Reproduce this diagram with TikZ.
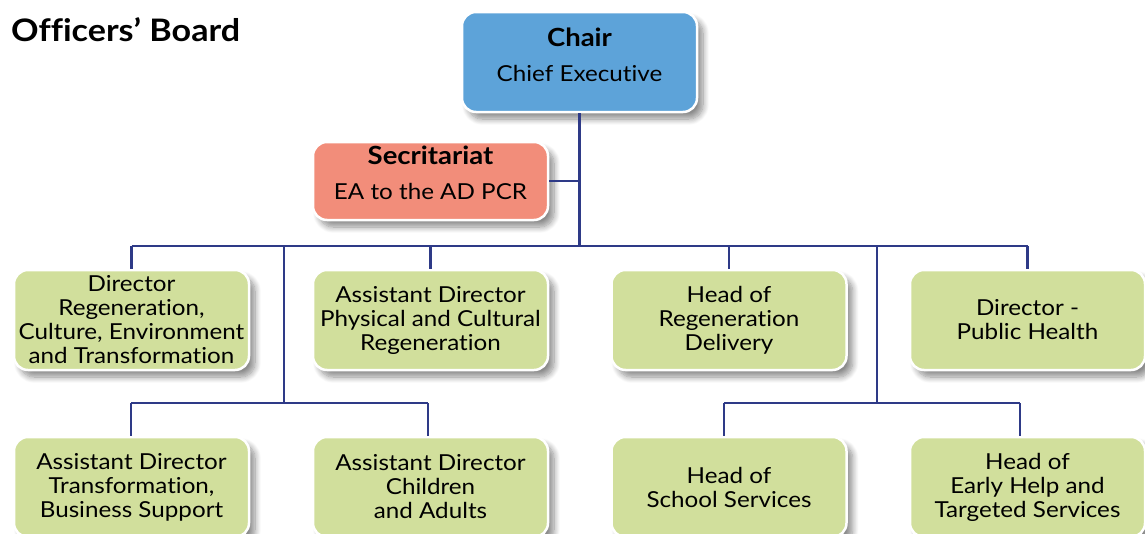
\documentclass[tikz,border=0pt]{standalone}
\usepackage{fontspec}
\setmainfont{Lato}[FakeStretch=1.1, Ligatures={NoCommon,NoDiscretionary,NoRare,NoContextual}]
\usetikzlibrary{shadows.blur}
\definecolor{chairblue}{HTML}{5DA3D9}
\definecolor{secred}{HTML}{F28D7A}
\definecolor{boxgreen}{HTML}{D1DF9C}
\definecolor{linecol}{HTML}{2E3A87}
\begin{document}
\begin{tikzpicture}[x=1pt,y=-1pt,
  box/.style={rectangle, rounded corners=14pt, draw=white, line width=2.5pt,
    minimum width=235pt, minimum height=100pt, align=center, inner sep=2pt,
    font=\fontsize{22}{24}\selectfont,
    blur shadow={shadow xshift=6pt, shadow yshift=-7pt, shadow blur radius=6pt, shadow blur steps=10, shadow opacity=45}},
  greenbox/.style={box, fill=boxgreen},
  conn/.style={draw=linecol, line width=2.5pt}]
\useasboundingbox (0,0) rectangle (1145,533);
\node[anchor=west, font=\bfseries\fontsize{31}{36}\selectfont, inner sep=0pt] (title) at (11,30) {Officers’ Board};
\node[box, fill=chairblue, text depth=14pt] (chair) at (579.5,62) {{\bfseries\fontsize{25}{24}\selectfont Chair}\\[11pt]Chief Executive};
\node[box, fill=secred, minimum height=78pt, text depth=16pt] (sec) at (430.5,181) {{\bfseries\fontsize{25}{24}\selectfont Secritariat}\\[11pt]EA to the AD PCR};
\node[greenbox] (g1) at (131.5,320) {Director\\Regeneration,\\Culture, Environment\\and Transformation};
\node[greenbox] (g2) at (430.5,320) {Assistant Director\\Physical and Cultural\\Regeneration};
\node[greenbox] (g3) at (729,320) {Head of\\Regeneration\\Delivery};
\node[greenbox] (g4) at (1027.5,320) {Director -\\Public Health};
\node[greenbox] (h1) at (131.5,487) {Assistant Director\\Transformation,\\Business Support};
\node[greenbox] (h2) at (430.5,487) {Assistant Director\\Children\\and Adults};
\node[greenbox] (h3) at (729,487) {Head of\\School Services};
\node[greenbox] (h4) at (1027.5,487) {Head of\\Early Help and\\Targeted Services};
\coordinate (bus) at (579.5,246);
\coordinate (v1) at (284,246);
\coordinate (v2) at (877,246);
\coordinate (j1) at (284,403);
\coordinate (j2) at (877,403);
\coordinate (d1) at (131,403);
\coordinate (d2) at (428,403);
\coordinate (d3) at (724,403);
\coordinate (d4) at (1020,403);
\draw[conn] (chair.south) -- (bus);
\draw[conn] (sec.east) -- (sec.east -| chair.south);
\draw[conn] (g1.north |- bus) -- (g4.north |- bus);
\foreach \n in {g1,g2,g3,g4} \draw[conn] (\n.north |- bus) -- (\n.north);
\draw[conn] (v1) -- (j1);
\draw[conn] (v2) -- (j2);
\draw[conn] (d1) -- (d2);
\draw[conn] (d3) -- (d4);
\draw[conn] (d1) -- (d1 |- h1.north);
\draw[conn] (d2) -- (d2 |- h2.north);
\draw[conn] (d3) -- (d3 |- h3.north);
\draw[conn] (d4) -- (d4 |- h4.north);
\end{tikzpicture}
\end{document}
